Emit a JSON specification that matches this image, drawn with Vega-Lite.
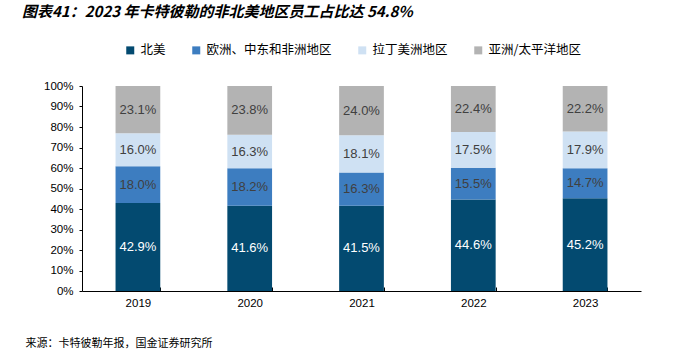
{
  "$schema": "https://vega.github.io/schema/vega-lite/v6.json",
  "width": 559,
  "height": 205,
  "autosize": "none",
  "padding": {"left": 82, "top": 86, "right": 56, "bottom": 59},
  "background": "white",
  "config": {"view": {"stroke": null}, "font": "Liberation Sans"},
  "title": {
    "text": "图表41：2023 年卡特彼勒的非北美地区员工占比达 54.8%",
    "anchor": "start",
    "frame": "group",
    "font": "Noto Sans CJK SC",
    "fontSize": 15,
    "fontStyle": "italic",
    "fontWeight": "bold",
    "color": "#000000",
    "dx": -60,
    "offset": 24
  },
  "data": {
    "values": [
      {"year": "2019", "region": "北美", "order": 1, "v": 0.429},
      {"year": "2019", "region": "欧洲、中东和非洲地区", "order": 2, "v": 0.180},
      {"year": "2019", "region": "拉丁美洲地区", "order": 3, "v": 0.160},
      {"year": "2019", "region": "亚洲/太平洋地区", "order": 4, "v": 0.231},
      {"year": "2020", "region": "北美", "order": 1, "v": 0.416},
      {"year": "2020", "region": "欧洲、中东和非洲地区", "order": 2, "v": 0.182},
      {"year": "2020", "region": "拉丁美洲地区", "order": 3, "v": 0.163},
      {"year": "2020", "region": "亚洲/太平洋地区", "order": 4, "v": 0.238},
      {"year": "2021", "region": "北美", "order": 1, "v": 0.415},
      {"year": "2021", "region": "欧洲、中东和非洲地区", "order": 2, "v": 0.163},
      {"year": "2021", "region": "拉丁美洲地区", "order": 3, "v": 0.181},
      {"year": "2021", "region": "亚洲/太平洋地区", "order": 4, "v": 0.240},
      {"year": "2022", "region": "北美", "order": 1, "v": 0.446},
      {"year": "2022", "region": "欧洲、中东和非洲地区", "order": 2, "v": 0.155},
      {"year": "2022", "region": "拉丁美洲地区", "order": 3, "v": 0.175},
      {"year": "2022", "region": "亚洲/太平洋地区", "order": 4, "v": 0.224},
      {"year": "2023", "region": "北美", "order": 1, "v": 0.452},
      {"year": "2023", "region": "欧洲、中东和非洲地区", "order": 2, "v": 0.147},
      {"year": "2023", "region": "拉丁美洲地区", "order": 3, "v": 0.179},
      {"year": "2023", "region": "亚洲/太平洋地区", "order": 4, "v": 0.222}
    ]
  },
  "encoding": {
    "x": {
      "field": "year",
      "type": "nominal",
      "scale": {"paddingInner": 0.6, "paddingOuter": 0.3},
      "axis": {
        "title": "来源：卡特彼勒年报，国金证券研究所",
        "titleFont": "Noto Sans CJK SC",
        "titleFontSize": 11,
        "titleFontWeight": "normal",
        "titleColor": "#000000",
        "titleAnchor": "start",
        "titleAlign": "left",
        "titleBaseline": "top",
        "titleX": -57,
        "titleY": 46,
        "labelAngle": 0,
        "labelFontSize": 11.5,
        "labelColor": "#000000",
        "labelPadding": 10,
        "domainColor": "#000000",
        "tickColor": "#000000",
        "tickBand": "extent",
        "tickSize": -4,
        "grid": false
      }
    },
    "y": {
      "field": "v",
      "type": "quantitative",
      "stack": "normalize",
      "scale": {"domain": [0, 1]},
      "axis": {
        "title": null,
        "format": ".0%",
        "values": [0, 0.1, 0.2, 0.3, 0.4, 0.5, 0.6, 0.7, 0.8, 0.9, 1],
        "labelFontSize": 11.5,
        "labelColor": "#000000",
        "labelPadding": 6,
        "tickSize": 3,
        "domainColor": "#000000",
        "tickColor": "#000000",
        "grid": false
      }
    },
    "order": {"field": "order", "type": "quantitative"}
  },
  "layer": [
    {
      "mark": {"type": "bar"},
      "encoding": {
        "color": {
          "field": "region",
          "type": "nominal",
          "scale": {
            "domain": ["北美", "欧洲、中东和非洲地区", "拉丁美洲地区", "亚洲/太平洋地区"],
            "range": ["#034A70", "#3D7DC0", "#CFE1F3", "#B3B3B3"]
          },
          "legend": {
            "title": null,
            "orient": "none",
            "direction": "horizontal",
            "legendX": 42,
            "legendY": -42,
            "symbolType": "square",
            "symbolSize": 64,
            "symbolStrokeWidth": 0,
            "labelFont": "Noto Sans CJK SC",
            "labelFontSize": 12.5,
            "labelColor": "#000000",
            "labelOffset": 4,
            "columnPadding": 24
          }
        }
      }
    },
    {
      "mark": {"type": "text", "fontSize": 13, "baseline": "middle", "align": "center"},
      "encoding": {
        "y": {"field": "v", "type": "quantitative", "stack": "normalize", "bandPosition": 0.5},
        "text": {"field": "v", "type": "quantitative", "format": ".1%"},
        "color": {
          "condition": {"test": "datum.region === '北美'", "value": "#FFFFFF"},
          "value": "#404040"
        }
      }
    }
  ]
}
